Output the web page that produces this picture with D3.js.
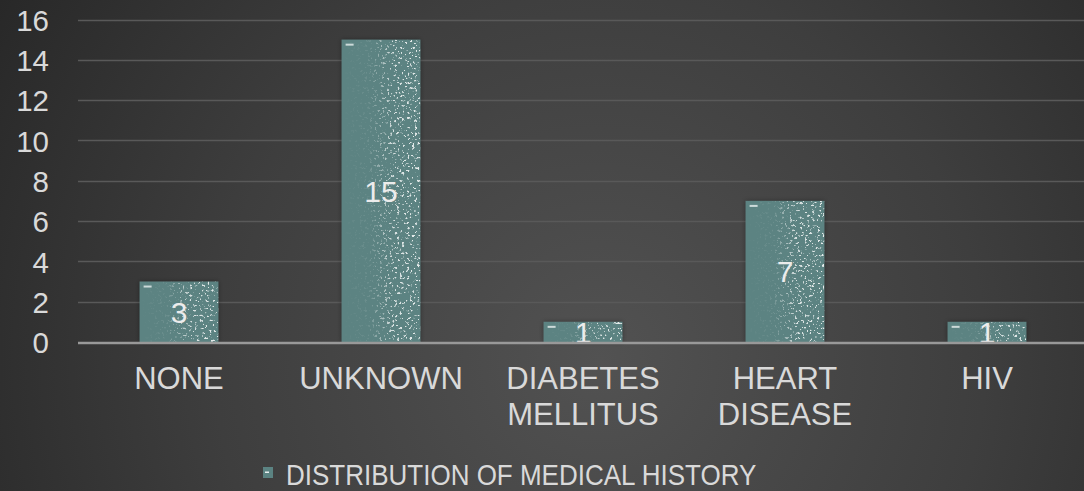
<!DOCTYPE html>
<html>
<head>
<meta charset="utf-8">
<script src="https://cdn.jsdelivr.net/npm/d3@7"></script>
<style>
  html, body { margin: 0; padding: 0; background: #2c2c2c; }
  svg { display: block; }
  text { font-family: "Liberation Sans", Arial, sans-serif; }
</style>
</head>
<body>
<svg id="chart" width="1084" height="491"></svg>
<script>
// Medical history counts
const categories = [["NONE"], ["UNKNOWN"], ["DIABETES", "MELLITUS"], ["HEART", "DISEASE"], ["HIV"]];
const values = [3, 15, 1, 7, 1];
const yTicks = [0, 2, 4, 6, 8, 10, 12, 14, 16];
const seriesName = "DISTRIBUTION OF MEDICAL HISTORY";

const W = 1084, H = 491;
const svg = d3.select("#chart");
const defs = svg.append("defs");

// Background: dark radial glow
const bg = defs.append("radialGradient").attr("id", "bgGrad")
  .attr("gradientUnits", "userSpaceOnUse")
  .attr("cx", 600).attr("cy", 360).attr("r", 700);
bg.append("stop").attr("offset", "0%").attr("stop-color", "#525252");
bg.append("stop").attr("offset", "55%").attr("stop-color", "#3e3e3e");
bg.append("stop").attr("offset", "100%").attr("stop-color", "#282828");
svg.append("rect").attr("width", W).attr("height", H).attr("fill", "url(#bgGrad)");

// Speckled texture for the bars
const speck = defs.append("filter").attr("id", "speck")
  .attr("x", 0).attr("y", 0).attr("width", 1).attr("height", 1);
speck.append("feTurbulence").attr("type", "fractalNoise")
  .attr("baseFrequency", 0.4).attr("numOctaves", 2).attr("seed", 11).attr("result", "noise");
speck.append("feColorMatrix").attr("in", "noise").attr("type", "matrix")
  .attr("values", "0 0 0 0 1  0 0 0 0 1  0 0 0 0 1  10 0 0 0 -6.1").attr("result", "dots");
speck.append("feGaussianBlur").attr("in", "dots").attr("stdDeviation", 0.35).attr("result", "soft");
speck.append("feComposite").attr("in", "soft").attr("in2", "SourceGraphic").attr("operator", "in");

const fade = defs.append("linearGradient").attr("id", "speckFade")
  .attr("x1", 0).attr("x2", 1).attr("y1", 0).attr("y2", 0);
fade.append("stop").attr("offset", "0%").attr("stop-color", "#fff").attr("stop-opacity", 0.0);
fade.append("stop").attr("offset", "35%").attr("stop-color", "#fff").attr("stop-opacity", 0.1);
fade.append("stop").attr("offset", "65%").attr("stop-color", "#fff").attr("stop-opacity", 0.75);
fade.append("stop").attr("offset", "100%").attr("stop-color", "#fff").attr("stop-opacity", 0.85);
defs.append("mask").attr("id", "speckMask").attr("maskContentUnits", "objectBoundingBox")
  .append("rect").attr("width", 1).attr("height", 1).attr("fill", "url(#speckFade)");

const shadow = defs.append("filter").attr("id", "barShadow")
  .attr("x", -0.2).attr("y", -0.2).attr("width", 1.4).attr("height", 1.4);
shadow.append("feDropShadow").attr("dx", 0).attr("dy", 0).attr("stdDeviation", 2.5)
  .attr("flood-color", "#000").attr("flood-opacity", 0.35);

// Scales
const x = d3.scaleBand()
  .domain(categories.map(c => c.join(" ")))
  .range([78, 1088])
  .paddingInner(0.61)
  .paddingOuter(0.305);
const y = d3.scaleLinear().domain([0, 16]).range([342, 19.5]);

// Gridlines and y tick labels
const yAxis = d3.axisLeft(y).tickValues(yTicks).tickSize(0).tickPadding(29);
const gy = svg.append("g").attr("transform", "translate(78,0)").call(yAxis);
gy.select(".domain").remove();
gy.selectAll("text")
  .attr("fill", "#d9d9d9").attr("font-size", 29.5)
  .attr("font-family", "'Liberation Sans', Arial, sans-serif")
  .attr("dy", "0.36em");

svg.append("g").selectAll("line").data(yTicks.filter(t => t > 0)).join("line")
  .attr("x1", 78).attr("x2", W)
  .attr("y1", d => Math.round(y(d)) + 0.5).attr("y2", d => Math.round(y(d)) + 0.5)
  .attr("stroke", "#595959").attr("stroke-width", 1.5);

// Bars
const bars = svg.append("g").selectAll("g").data(values).join("g");
bars.append("rect")
  .attr("x", (d, i) => x(categories[i].join(" ")))
  .attr("y", d => y(d))
  .attr("width", x.bandwidth())
  .attr("height", d => y(0) - y(d))
  .attr("fill", "#5b8382")
  .attr("filter", "url(#barShadow)");
bars.append("rect")
  .attr("x", (d, i) => x(categories[i].join(" ")))
  .attr("y", d => y(d))
  .attr("width", x.bandwidth())
  .attr("height", d => y(0) - y(d))
  .attr("fill", "#fff")
  .attr("filter", "url(#speck)")
  .attr("mask", "url(#speckMask)");
// small highlight dash near each bar's top-left corner
bars.append("rect")
  .attr("x", (d, i) => x(categories[i].join(" ")) + 4)
  .attr("y", d => y(d) + 4)
  .attr("width", 8).attr("height", 2)
  .attr("fill", "#e8f0ef").attr("opacity", 0.8);

// Baseline axis
const xAxis = d3.axisBottom(x).tickSize(0).tickFormat("");
const gx = svg.append("g").attr("transform", `translate(0,${y(0)})`).call(xAxis);
gx.select(".domain").remove();
svg.append("line").attr("x1", 78).attr("x2", W)
  .attr("y1", y(0) + 1).attr("y2", y(0) + 1)
  .attr("stroke", "#999").attr("stroke-width", 2.5);

// Value labels
bars.append("text")
  .attr("x", (d, i) => x(categories[i].join(" ")) + x.bandwidth() / 2)
  .attr("y", d => (y(d) + y(0)) / 2)
  .attr("dy", "0.36em")
  .attr("text-anchor", "middle")
  .attr("fill", "#ececec").attr("font-size", 30)
  .text(d => d);

// Category labels
const catLabels = svg.append("g").selectAll("text").data(categories).join("text")
  .attr("x", c => x(c.join(" ")) + x.bandwidth() / 2)
  .attr("y", 389)
  .attr("text-anchor", "middle")
  .attr("fill", "#d9d9d9").attr("font-size", 31);
catLabels.selectAll("tspan").data(c => c).join("tspan")
  .attr("x", function () { return d3.select(this.parentNode).attr("x"); })
  .attr("dy", (d, i) => i === 0 ? 0 : 36)
  .text(d => d);

// Legend
const legend = svg.append("g");
legend.append("rect").attr("x", 263).attr("y", 467).attr("width", 10).attr("height", 11)
  .attr("fill", "#5b8382");
legend.append("rect").attr("x", 265).attr("y", 471.5).attr("width", 4).attr("height", 1.5)
  .attr("fill", "#e8f0ef");
legend.append("text").attr("x", 286).attr("y", 485.5)
  .attr("fill", "#d9d9d9").attr("font-size", 26)
  .attr("transform", "translate(0,485.5) scale(1,1.1) translate(0,-485.5)")
  .text(seriesName);
</script>
</body>
</html>
